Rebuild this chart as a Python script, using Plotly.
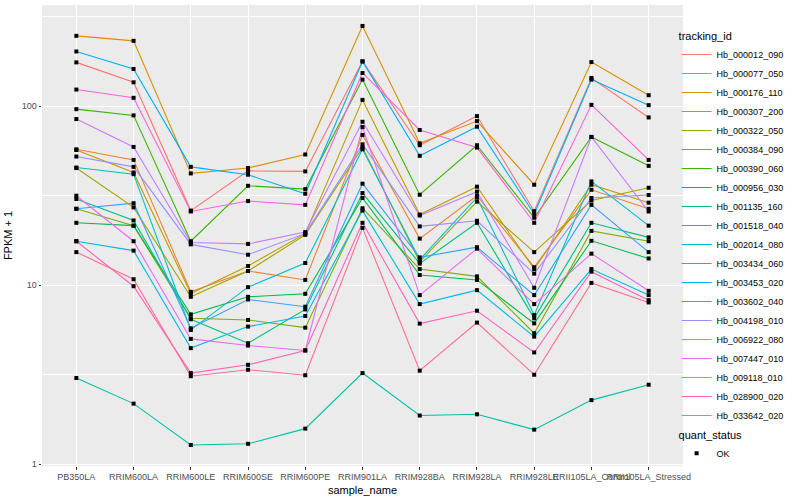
import plotly.graph_objects as go

samples = ["PB350LA", "RRIM600LA", "RRIM600LE", "RRIM600SE", "RRIM600PE", "RRIM901LA",
           "RRIM928BA", "RRIM928LA", "RRIM928LE", "RRII105LA_Control", "RRII105LA_Stressed"]

tracking_ids = ["Hb_000012_090", "Hb_000077_050", "Hb_000176_110", "Hb_000307_200", "Hb_000322_050",
                "Hb_000384_090", "Hb_000390_060", "Hb_000956_030", "Hb_001135_160", "Hb_001518_040",
                "Hb_002014_080", "Hb_003434_060", "Hb_003453_020", "Hb_003602_040", "Hb_004198_010",
                "Hb_006922_080", "Hb_007447_010", "Hb_009118_010", "Hb_028900_020", "Hb_033642_020"]

colors = ["#F8766D", "#EA8331", "#D89000", "#C09B00", "#A3A500", "#7CAE00", "#39B600", "#00BB4E",
          "#00BF7D", "#00C1A3", "#00BFC4", "#00BAE0", "#00B0F6", "#35A2FF", "#9590FF", "#C77CFF",
          "#E76BF3", "#FA62DB", "#FF62BC", "#FF6C91"]

# FPKM + 1 values per tracking id, in sample order
hb_000012_090 = [175.6, 135.9, 26.1, 43.5, 43.2, 177.8, 60.5, 88.0, 25.9, 143.7, 86.5]
hb_000077_050 = [57.4, 50.1, 9.18, 12.0, 10.7, 69.0, 18.2, 31.6, 12.6, 34.1, 26.7]
hb_000176_110 = [247.0, 231.6, 42.1, 45.1, 53.7, 280.6, 62.0, 82.5, 36.4, 176.3, 115.1]
hb_000307_200 = [56.9, 42.6, 8.99, 12.8, 19.4, 108.4, 24.8, 35.5, 12.3, 36.4, 28.9]
hb_000322_050 = [45.1, 27.2, 8.61, 12.0, 19.1, 58.7, 13.5, 29.3, 15.3, 29.7, 35.0]
hb_000384_090 = [26.7, 21.5, 6.53, 6.39, 5.79, 26.9, 12.3, 11.2, 5.39, 20.1, 17.6]
hb_000390_060 = [96.2, 88.8, 17.6, 35.9, 34.4, 140.7, 32.0, 60.5, 23.8, 67.3, 46.4]
hb_000956_030 = [22.3, 21.5, 6.87, 8.61, 8.95, 30.7, 11.4, 10.7, 6.12, 17.7, 14.1]
hb_001135_160 = [30.3, 23.0, 6.45, 4.74, 7.32, 32.7, 13.2, 22.3, 6.53, 22.3, 18.5]
hb_001518_040 = [3.03, 2.18, 1.28, 1.30, 1.58, 3.23, 1.87, 1.90, 1.56, 2.28, 2.78]
hb_002014_080 = [45.4, 41.7, 5.62, 9.75, 13.3, 57.4, 13.9, 30.9, 6.81, 38.0, 21.5]
hb_003434_060 = [17.6, 15.6, 4.45, 5.87, 6.73, 26.1, 7.84, 9.38, 5.16, 12.3, 8.80]
hb_003453_020 = [202.0, 161.2, 45.8, 41.4, 32.4, 177.8, 52.8, 76.8, 25.0, 140.7, 101.3]
hb_003602_040 = [26.7, 28.7, 5.74, 8.32, 7.58, 36.9, 14.3, 16.3, 8.80, 28.1, 15.3]
hb_004198_010 = [52.3, 45.8, 16.9, 14.8, 19.4, 61.2, 21.3, 22.9, 11.6, 30.7, 31.9]
hb_006922_080 = [84.7, 59.2, 17.3, 17.0, 19.8, 81.8, 24.5, 33.3, 9.67, 67.3, 25.8]
hb_007447_010 = [31.6, 17.6, 5.01, 4.60, 4.32, 76.4, 8.80, 16.0, 7.84, 15.0, 9.30]
hb_009118_010 = [123.8, 111.3, 25.8, 29.5, 28.1, 153.2, 73.6, 58.7, 22.3, 101.7, 50.1]
hb_028900_020 = [17.6, 9.87, 3.23, 3.59, 4.32, 22.3, 6.10, 7.20, 4.21, 11.9, 8.25]
hb_033642_020 = [15.3, 10.8, 3.10, 3.37, 3.14, 20.9, 3.33, 6.18, 3.16, 10.3, 8.01]

series = [hb_000012_090, hb_000077_050, hb_000176_110, hb_000307_200, hb_000322_050,
          hb_000384_090, hb_000390_060, hb_000956_030, hb_001135_160, hb_001518_040,
          hb_002014_080, hb_003434_060, hb_003453_020, hb_003602_040, hb_004198_010,
          hb_006922_080, hb_007447_010, hb_009118_010, hb_028900_020, hb_033642_020]

y_ticks = [1, 10, 100]
y_ticklabels = ["1", "10", "100"]

fig = go.Figure()
for tid, col, vals in zip(tracking_ids, colors, series):
    fig.add_trace(go.Scatter(x=samples, y=vals, mode="lines", name=tid,
                             line=dict(color=col, width=1.1), legend="legend"))

all_x = [s for vals in series for s in samples]
all_y = [v for vals in series for v in vals]
fig.add_trace(go.Scatter(x=all_x, y=all_y, mode="markers", name="OK",
                         marker=dict(color="black", symbol="square", size=4),
                         legend="legend2"))

font_family = "Liberation Sans, Arial, sans-serif"
fig.update_layout(
    width=800, height=500,
    margin=dict(l=42, r=117, t=5, b=31),
    paper_bgcolor="white", plot_bgcolor="#EBEBEB",
    font=dict(family=font_family, size=9, color="#000000"),
    xaxis=dict(type="category", categoryorder="array", categoryarray=samples,
               range=[-0.6, 10.6], showgrid=True, gridcolor="white", gridwidth=1.1,
               zeroline=False, showline=False, ticks="outside", ticklen=2.5, tickcolor="#333333",
               tickangle=0, tickfont=dict(size=9, color="#4D4D4D"),
               title=dict(text="sample_name", font=dict(size=11), standoff=5)),
    yaxis=dict(type="log", range=[-0.01, 2.565], tickvals=y_ticks, ticktext=y_ticklabels,
               showgrid=True, gridcolor="white", gridwidth=1.1, zeroline=False, showline=False,
               ticks="outside", ticklen=2.5, tickcolor="#333333",
               tickfont=dict(size=9, color="#4D4D4D"),
               minor=dict(tickvals=[10 ** 0.5, 10 ** 1.5, 10 ** 2.5], showgrid=True,
                          gridcolor="white", gridwidth=0.55, ticks=""),
               title=dict(text="FPKM + 1", font=dict(size=11), standoff=6)),
    legend=dict(x=0.99, y=0.955, xanchor="left", yanchor="top",
                title=dict(text="tracking_id", font=dict(size=11)),
                font=dict(size=9), bgcolor="rgba(0,0,0,0)", tracegroupgap=0),
    legend2=dict(x=0.99, y=0.09, xanchor="left", yanchor="top",
                 title=dict(text="quant_status", font=dict(size=11)),
                 font=dict(size=9), bgcolor="rgba(0,0,0,0)"),
)

fig.write_html("out.html", config={"displayModeBar": False},
               post_script="document.body.style.margin='0';document.body.style.padding='0';")
